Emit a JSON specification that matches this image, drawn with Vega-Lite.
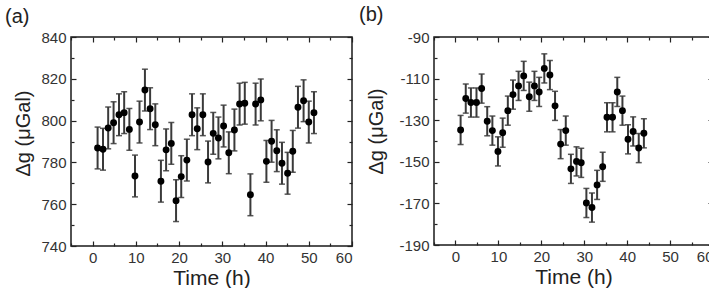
{
  "$schema": "https://vega.github.io/schema/vega-lite/v6.json",
  "padding": {"left": 4, "top": 4, "right": -6, "bottom": 0},
  "bounds": "flush",
  "spacing": 82,
  "config": {
    "font": "Liberation Sans",
    "view": {"stroke": "#1a1a1a", "strokeWidth": 1.5},
    "axis": {
      "labelFont": "Liberation Sans",
      "labelFontSize": 15,
      "labelColor": "#333333",
      "titleFont": "Liberation Sans",
      "titleFontWeight": "normal",
      "titleColor": "#222222",
      "grid": false,
      "domain": false,
      "tickColor": "#222222",
      "tickWidth": 1.2
    },
    "title": {
      "font": "Liberation Sans",
      "fontSize": 20,
      "fontWeight": "normal",
      "color": "#222222",
      "anchor": "start",
      "frame": "bounds"
    }
  },
  "datasets": {
    "gravityA": [
      {"t": 1.15, "g": 786.9, "err": 10}, {"t": 2.4, "g": 786.3, "err": 10},
      {"t": 3.6, "g": 796.5, "err": 10}, {"t": 4.85, "g": 799.0, "err": 10},
      {"t": 6.1, "g": 802.8, "err": 10}, {"t": 7.3, "g": 803.8, "err": 10},
      {"t": 8.5, "g": 795.8, "err": 10}, {"t": 9.8, "g": 773.5, "err": 10},
      {"t": 10.85, "g": 799.3, "err": 10}, {"t": 12.1, "g": 814.6, "err": 10},
      {"t": 13.3, "g": 805.7, "err": 10}, {"t": 14.5, "g": 798.0, "err": 10},
      {"t": 15.8, "g": 771.0, "err": 10}, {"t": 17.0, "g": 786.0, "err": 10},
      {"t": 18.2, "g": 789.1, "err": 10}, {"t": 19.3, "g": 761.7, "err": 10},
      {"t": 20.5, "g": 773.2, "err": 10}, {"t": 21.8, "g": 781.1, "err": 10},
      {"t": 23.0, "g": 802.8, "err": 10}, {"t": 24.2, "g": 796.1, "err": 10},
      {"t": 25.5, "g": 802.8, "err": 10}, {"t": 26.7, "g": 780.2, "err": 10},
      {"t": 27.9, "g": 793.9, "err": 10}, {"t": 29.1, "g": 791.7, "err": 10},
      {"t": 30.3, "g": 797.4, "err": 10}, {"t": 31.5, "g": 784.6, "err": 10},
      {"t": 32.8, "g": 795.5, "err": 10}, {"t": 34.0, "g": 807.9, "err": 10},
      {"t": 35.2, "g": 808.3, "err": 10}, {"t": 36.5, "g": 764.5, "err": 10},
      {"t": 37.7, "g": 807.9, "err": 10}, {"t": 38.9, "g": 809.9, "err": 10},
      {"t": 40.2, "g": 780.5, "err": 10}, {"t": 41.4, "g": 790.1, "err": 10},
      {"t": 42.6, "g": 785.6, "err": 10}, {"t": 43.8, "g": 779.6, "err": 10},
      {"t": 45.1, "g": 774.8, "err": 10}, {"t": 46.3, "g": 785.3, "err": 10},
      {"t": 47.5, "g": 806.4, "err": 10}, {"t": 48.8, "g": 809.5, "err": 10},
      {"t": 50.0, "g": 799.3, "err": 10}, {"t": 51.2, "g": 803.8, "err": 10}
    ],
    "gravityB": [
      {"t": 1.2, "g": -134.7, "err": 7}, {"t": 2.4, "g": -119.6, "err": 7},
      {"t": 3.6, "g": -121.5, "err": 7}, {"t": 4.9, "g": -121.5, "err": 7},
      {"t": 6.1, "g": -114.8, "err": 7}, {"t": 7.4, "g": -130.5, "err": 7},
      {"t": 8.6, "g": -135.0, "err": 7}, {"t": 9.9, "g": -145.0, "err": 7},
      {"t": 11.0, "g": -136.0, "err": 7}, {"t": 12.2, "g": -125.4, "err": 7},
      {"t": 13.4, "g": -117.7, "err": 7}, {"t": 14.7, "g": -113.5, "err": 7},
      {"t": 15.9, "g": -108.7, "err": 7}, {"t": 17.2, "g": -118.7, "err": 7},
      {"t": 18.4, "g": -113.5, "err": 7}, {"t": 19.5, "g": -116.4, "err": 7},
      {"t": 20.7, "g": -105.1, "err": 7}, {"t": 22.0, "g": -108.3, "err": 7},
      {"t": 23.2, "g": -123.1, "err": 7}, {"t": 24.5, "g": -141.5, "err": 7},
      {"t": 25.7, "g": -135.0, "err": 7}, {"t": 26.9, "g": -153.4, "err": 7},
      {"t": 28.2, "g": -149.8, "err": 7}, {"t": 29.3, "g": -150.5, "err": 7},
      {"t": 30.5, "g": -169.8, "err": 7}, {"t": 31.8, "g": -172.0, "err": 7},
      {"t": 33.0, "g": -161.1, "err": 7}, {"t": 34.3, "g": -152.4, "err": 7},
      {"t": 35.3, "g": -128.6, "err": 7}, {"t": 36.6, "g": -128.6, "err": 7},
      {"t": 37.7, "g": -116.4, "err": 7}, {"t": 38.9, "g": -125.4, "err": 7},
      {"t": 40.2, "g": -139.2, "err": 7}, {"t": 41.4, "g": -135.4, "err": 7},
      {"t": 42.7, "g": -143.4, "err": 7}, {"t": 43.9, "g": -136.3, "err": 7}
    ]
  },
  "hconcat": [
    {
      "width": 281,
      "height": 209,
      "title": {"text": "(a)", "dx": -9, "offset": 3},
      "data": {"name": "gravityA"},
      "layer": [
        {
          "mark": {"type": "errorbar", "ticks": {"size": 6, "thickness": 1.5, "color": "#111111"}, "rule": {"strokeWidth": 2, "color": "#3a3a3a"}},
          "encoding": {
            "x": {"field": "t", "type": "quantitative",
              "scale": {"domain": [-5, 60], "nice": false, "zero": false},
              "axis": {"orient": "bottom", "values": [0, 10, 20, 30, 40, 50, 60], "ticks": false, "labelPadding": 4,
                "title": "Time (h)", "titleFontSize": 21, "titlePadding": 2}},
            "y": {"field": "g", "type": "quantitative",
              "scale": {"domain": [740, 840], "nice": false, "zero": false},
              "axis": {"orient": "left", "values": [740, 760, 780, 800, 820, 840], "ticks": false, "labelPadding": 5,
                "title": "Δg (μGal)", "titleFontSize": 20, "titlePadding": 7, "titleY": 96}},
            "yError": {"field": "err"}
          }
        },
        {
          "mark": {"type": "circle", "size": 48, "color": "#000000", "opacity": 1},
          "encoding": {
            "x": {"field": "t", "type": "quantitative",
              "axis": {"orient": "bottom", "values": [0, 10, 20, 30, 40, 50, 60], "labels": false, "title": null, "offset": -5, "tickSize": 5}},
            "y": {"field": "g", "type": "quantitative",
              "axis": {"orient": "left", "values": [740, 760, 780, 800, 820, 840], "labels": false, "title": null, "offset": -5, "tickSize": 5}}
          }
        },
        {
          "mark": {"type": "circle", "size": 48, "opacity": 0},
          "encoding": {
            "x": {"field": "t", "type": "quantitative",
              "axis": {"orient": "bottom", "values": [-5, 5, 15, 25, 35, 45, 55], "labels": false, "title": null, "offset": -3, "tickSize": 3}},
            "y": {"field": "g", "type": "quantitative",
              "axis": {"orient": "left", "values": [750, 770, 790, 810, 830], "labels": false, "title": null, "offset": -3, "tickSize": 3}}
          }
        },
        {
          "mark": {"type": "circle", "size": 48, "opacity": 0},
          "encoding": {
            "x": {"field": "t", "type": "quantitative",
              "axis": {"orient": "top", "values": [0, 10, 20, 30, 40, 50, 60], "labels": false, "title": null, "offset": -5, "tickSize": 5}},
            "y": {"field": "g", "type": "quantitative",
              "axis": {"orient": "right", "values": [740, 760, 780, 800, 820, 840], "labels": false, "title": null, "offset": -5, "tickSize": 5}}
          }
        },
        {
          "mark": {"type": "circle", "size": 48, "opacity": 0},
          "encoding": {
            "x": {"field": "t", "type": "quantitative",
              "axis": {"orient": "top", "values": [-5, 5, 15, 25, 35, 45, 55], "labels": false, "title": null, "offset": -3, "tickSize": 3}},
            "y": {"field": "g", "type": "quantitative",
              "axis": {"orient": "right", "values": [750, 770, 790, 810, 830], "labels": false, "title": null, "offset": -3, "tickSize": 3}}
          }
        }
      ]
    },
    {
      "width": 279,
      "height": 208,
      "title": {"text": "(b)", "dx": -8, "offset": 5},
      "data": {"name": "gravityB"},
      "layer": [
        {
          "mark": {"type": "errorbar", "ticks": {"size": 6, "thickness": 1.5, "color": "#111111"}, "rule": {"strokeWidth": 2, "color": "#3a3a3a"}},
          "encoding": {
            "x": {"field": "t", "type": "quantitative",
              "scale": {"domain": [-5, 60], "nice": false, "zero": false},
              "axis": {"orient": "bottom", "values": [0, 10, 20, 30, 40, 50, 60], "ticks": false, "labelPadding": 4,
                "title": "Time (h)", "titleFontSize": 21, "titlePadding": 2}},
            "y": {"field": "g", "type": "quantitative",
              "scale": {"domain": [-190, -90], "nice": false, "zero": false},
              "axis": {"orient": "left", "values": [-190, -170, -150, -130, -110, -90], "ticks": false, "labelPadding": 5,
                "labelExpr": "'' + datum.value",
                "title": "Δg (μGal)", "titleFontSize": 20, "titlePadding": 12, "titleY": 94}},
            "yError": {"field": "err"}
          }
        },
        {
          "mark": {"type": "circle", "size": 48, "color": "#000000", "opacity": 1},
          "encoding": {
            "x": {"field": "t", "type": "quantitative",
              "axis": {"orient": "bottom", "values": [0, 10, 20, 30, 40, 50, 60], "labels": false, "title": null, "offset": -5, "tickSize": 5}},
            "y": {"field": "g", "type": "quantitative",
              "axis": {"orient": "left", "values": [-190, -170, -150, -130, -110, -90], "labels": false, "title": null, "offset": -5, "tickSize": 5}}
          }
        },
        {
          "mark": {"type": "circle", "size": 48, "opacity": 0},
          "encoding": {
            "x": {"field": "t", "type": "quantitative",
              "axis": {"orient": "bottom", "values": [-5, 5, 15, 25, 35, 45, 55], "labels": false, "title": null, "offset": -3, "tickSize": 3}},
            "y": {"field": "g", "type": "quantitative",
              "axis": {"orient": "left", "values": [-180, -160, -140, -120, -100], "labels": false, "title": null, "offset": -3, "tickSize": 3}}
          }
        },
        {
          "mark": {"type": "circle", "size": 48, "opacity": 0},
          "encoding": {
            "x": {"field": "t", "type": "quantitative",
              "axis": {"orient": "top", "values": [0, 10, 20, 30, 40, 50, 60], "labels": false, "title": null, "offset": -5, "tickSize": 5}},
            "y": {"field": "g", "type": "quantitative",
              "axis": {"orient": "right", "values": [-190, -170, -150, -130, -110, -90], "labels": false, "title": null, "offset": -5, "tickSize": 5}}
          }
        },
        {
          "mark": {"type": "circle", "size": 48, "opacity": 0},
          "encoding": {
            "x": {"field": "t", "type": "quantitative",
              "axis": {"orient": "top", "values": [-5, 5, 15, 25, 35, 45, 55], "labels": false, "title": null, "offset": -3, "tickSize": 3}},
            "y": {"field": "g", "type": "quantitative",
              "axis": {"orient": "right", "values": [-180, -160, -140, -120, -100], "labels": false, "title": null, "offset": -3, "tickSize": 3}}
          }
        }
      ]
    }
  ]
}
